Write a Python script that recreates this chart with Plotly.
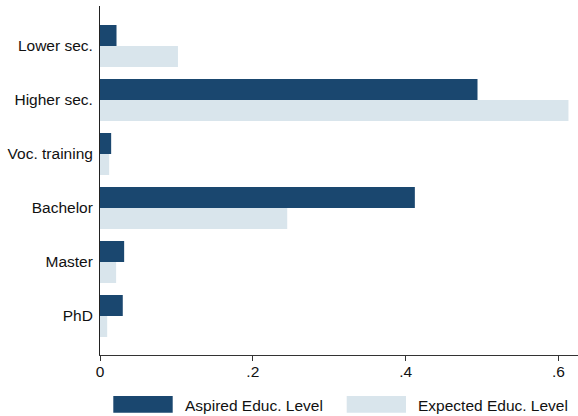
import plotly.graph_objects as go

categories = ["Lower sec.", "Higher sec.", "Voc. training", "Bachelor", "Master", "PhD"]
aspired = [0.0216, 0.494, 0.0146, 0.412, 0.0316, 0.0298]
expected = [0.1020, 0.613, 0.0120, 0.245, 0.0211, 0.0094]
series_names = ["Aspired Educ. Level", "Expected Educ. Level"]
x_tickvals = [0, 0.2, 0.4, 0.6]
x_ticktext = ["0", ".2", ".4", ".6"]

DARK = "#1a476f"
LIGHT = "#d9e5ec"
FONT = "Liberation Sans, Arial, sans-serif"

fig = go.Figure()
fig.add_trace(go.Bar(y=categories, x=aspired, orientation="h", name=series_names[0],
                     marker=dict(color=DARK, line=dict(width=0)), showlegend=False))
fig.add_trace(go.Bar(y=categories, x=expected, orientation="h", name=series_names[1],
                     marker=dict(color=LIGHT, line=dict(width=0)), showlegend=False))

fig.update_layout(
    width=578, height=416,
    margin=dict(l=100, r=0, t=6, b=61),
    paper_bgcolor="white", plot_bgcolor="white",
    barmode="group", bargap=0.222, bargroupgap=0,
    font=dict(family=FONT, size=15.5, color="#111111"),
    xaxis=dict(range=[0, 0.6255], tickvals=x_tickvals, ticktext=x_ticktext,
               showgrid=False, zeroline=False, showline=True, linecolor="#333333",
               linewidth=1, ticks="outside", ticklen=5, tickcolor="#333333",
               ticklabelstandoff=-3, tickfont=dict(size=15.5)),
    yaxis=dict(type="category", categoryorder="array", categoryarray=categories,
               range=[5.722, -0.741], showgrid=False, zeroline=False, showline=True,
               linecolor="#222222", linewidth=1, ticks="", ticklabelstandoff=3,
               tickfont=dict(size=15.5)),
)

# manual Stata-style legend
legend_items = [(113.3, 172.7, 182.7, DARK, series_names[0]),
                (346.7, 406.0, 416.0, LIGHT, series_names[1])]
for x0, x1, xt, col, name in legend_items:
    fig.add_shape(type="rect", xref="paper", yref="paper",
                  x0=(x0 - 100) / 478, x1=(x1 - 100) / 478,
                  y0=-(396 - 355) / 349, y1=-(412.7 - 355) / 349,
                  fillcolor=col, line=dict(width=0))
    fig.add_annotation(xref="paper", yref="paper", x=(xt - 100) / 478,
                       y=-(405 - 355) / 349, text=name, showarrow=False,
                       xanchor="left", yanchor="middle", font=dict(size=15.5))

fig.write_html("out.html")
